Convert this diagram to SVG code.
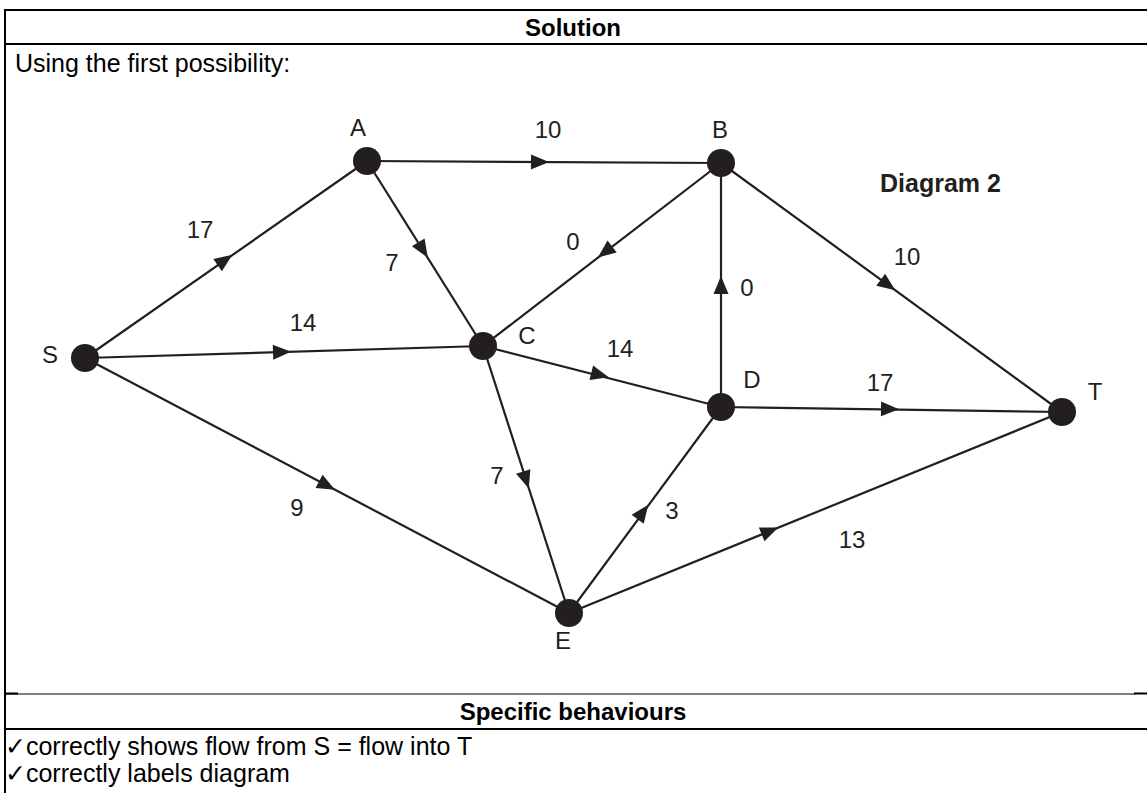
<svg xmlns="http://www.w3.org/2000/svg" xmlns:xlink="http://www.w3.org/1999/xlink" width="1147" height="793" viewBox="0 0 1147 793">
<style>
.tbl{stroke:#000;stroke-width:2;fill:none}
.thin{stroke:#000;stroke-width:1.2;fill:none}
.head{font-family:"Liberation Sans",Arial,sans-serif;font-size:24px;font-weight:bold;fill:#000;text-anchor:middle}
.txt{font-family:"Liberation Sans","DejaVu Sans",Arial,sans-serif;font-size:25px;fill:#000}
.edge{stroke:#231f20;stroke-width:2.2;fill:none}
.node{fill:#231f20}
.lbl{font-family:"Liberation Sans",Arial,sans-serif;font-size:24px;fill:#231f20;text-anchor:middle}
.arr{fill:#231f20}
</style>
<defs>
<path id="ah" class="arr" d="M9,0 L-9,-7.5 L-9,7.5 Z"/>
</defs>
<rect width="1147" height="793" fill="#fff"/>
<g id="table">
<line class="tbl" x1="5" y1="10" x2="1147" y2="10"/>
<line class="tbl" x1="5" y1="44" x2="1147" y2="44"/>
<line class="tbl" x1="5" y1="9" x2="5" y2="793"/>
<line class="thin" x1="5" y1="694" x2="1135" y2="694"/>
<line class="tbl" x1="1134" y1="693.5" x2="1147" y2="693.5"/>
<line class="tbl" x1="5" y1="693.5" x2="18" y2="693.5"/>
<line class="tbl" x1="5" y1="729" x2="1147" y2="729"/>
<text class="head" x="573" y="36">Solution</text>
<text class="txt" x="15" y="72" font-size="24">Using the first possibility:</text>
<text class="head" x="573" y="720">Specific behaviours</text>
<text class="txt" x="5" y="755">✓correctly shows flow from S = flow into T</text>
<text class="txt" x="5" y="782">✓correctly labels diagram</text>
</g>
<g id="connectors">
<line class="edge" x1="85" y1="358" x2="367" y2="161"/>
<line class="edge" x1="85" y1="358" x2="483" y2="346"/>
<line class="edge" x1="85" y1="358" x2="569" y2="613"/>
<line class="edge" x1="367" y1="161" x2="721" y2="163"/>
<line class="edge" x1="367" y1="161" x2="483" y2="346"/>
<line class="edge" x1="721" y1="163" x2="483" y2="346"/>
<line class="edge" x1="721" y1="163" x2="1062" y2="412"/>
<line class="edge" x1="483" y1="346" x2="721" y2="407"/>
<line class="edge" x1="483" y1="346" x2="569" y2="613"/>
<line class="edge" x1="721" y1="407" x2="721" y2="163"/>
<line class="edge" x1="721" y1="407" x2="1062" y2="412"/>
<line class="edge" x1="569" y1="613" x2="721" y2="407"/>
<line class="edge" x1="569" y1="613" x2="1062" y2="412"/>
<use xlink:href="#ah" transform="translate(225,260) rotate(-34.9)"/>
<use xlink:href="#ah" transform="translate(282,352) rotate(-1.7)"/>
<use xlink:href="#ah" transform="translate(327,485.5) rotate(27.8)"/>
<use xlink:href="#ah" transform="translate(540,162) rotate(0.3)"/>
<use xlink:href="#ah" transform="translate(423,250) rotate(57.9)"/>
<use xlink:href="#ah" transform="translate(605,252) rotate(142.4)"/>
<use xlink:href="#ah" transform="translate(888,285) rotate(36.1)"/>
<use xlink:href="#ah" transform="translate(600,375) rotate(14.4)"/>
<use xlink:href="#ah" transform="translate(526,480) rotate(72.1)"/>
<use xlink:href="#ah" transform="translate(721,285) rotate(-90)"/>
<use xlink:href="#ah" transform="translate(890,409) rotate(0.8)"/>
<use xlink:href="#ah" transform="translate(643,512) rotate(-53.6)"/>
<use xlink:href="#ah" transform="translate(770,531) rotate(-22.2)"/>
<text class="lbl" x="200" y="238">17</text>
<text class="lbl" x="303" y="331">14</text>
<text class="lbl" x="297" y="516">9</text>
<text class="lbl" x="548" y="138">10</text>
<text class="lbl" x="392" y="271">7</text>
<text class="lbl" x="573" y="250">0</text>
<text class="lbl" x="907" y="265">10</text>
<text class="lbl" x="747" y="296">0</text>
<text class="lbl" x="620" y="357">14</text>
<text class="lbl" x="880" y="391">17</text>
<text class="lbl" x="497" y="484">7</text>
<text class="lbl" x="672" y="519">3</text>
<text class="lbl" x="852" y="548">13</text>
</g>
<g id="node-S"><circle class="node" cx="85" cy="358" r="14"/><text class="lbl" x="50" y="363">S</text></g>
<g id="node-A"><circle class="node" cx="367" cy="161" r="14"/><text class="lbl" x="358" y="136">A</text></g>
<g id="node-B"><circle class="node" cx="721" cy="163" r="14"/><text class="lbl" x="720" y="138">B</text></g>
<g id="node-C"><circle class="node" cx="483" cy="346" r="14"/><text class="lbl" x="527" y="344">C</text></g>
<g id="node-D"><circle class="node" cx="721" cy="407" r="14"/><text class="lbl" x="752" y="388">D</text></g>
<g id="node-T"><circle class="node" cx="1062" cy="412" r="14"/><text class="lbl" x="1095" y="400">T</text></g>
<g id="node-E"><circle class="node" cx="569" cy="613" r="14"/><text class="lbl" x="563" y="649">E</text></g>
<g id="title"><text x="880" y="192" font-family="Liberation Sans, Arial, sans-serif" font-size="25" font-weight="bold" fill="#231f20">Diagram 2</text></g>
</svg>
